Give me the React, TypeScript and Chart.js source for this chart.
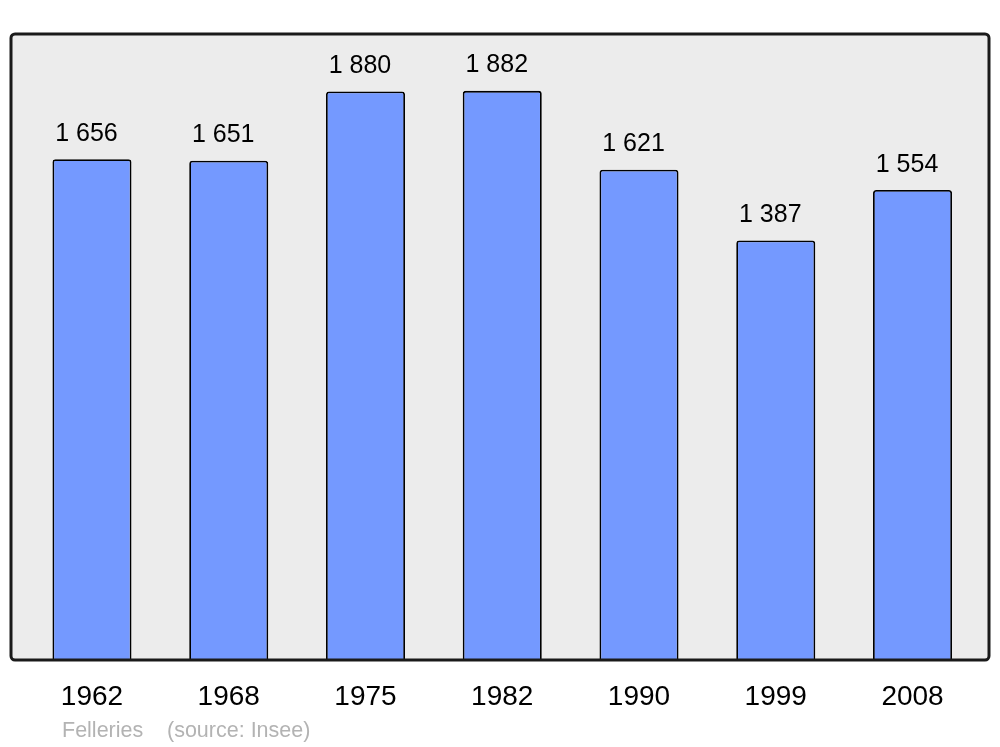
import React, { useEffect, useRef } from "react";
import { Chart, registerables } from "chart.js";

Chart.register(...registerables);

const years = ["1962", "1968", "1975", "1982", "1990", "1999", "2008"];
const population = [1656, 1651, 1880, 1882, 1621, 1387, 1554];
const townName = "Felleries";
const sourceText = "(source: Insee)";

const formatValue = (v: number) => String(v).replace(/\B(?=(\d{3})+(?!\d))/g, " ");

const FONT = "'Liberation Sans', Arial, sans-serif";

const framePlugin = {
  id: "frame",
  beforeDraw(chart: any) {
    const { ctx, chartArea } = chart;
    const l = chartArea.left - 12.6;
    const r = chartArea.right + 8.1;
    const t = chartArea.top;
    const b = chartArea.bottom;
    ctx.save();
    ctx.beginPath();
    ctx.roundRect(l, t, r - l, b - t, 4);
    ctx.fillStyle = "#ececec";
    ctx.fill();
    ctx.restore();
  },
  afterDatasetsDraw(chart: any) {
    const { ctx, chartArea } = chart;
    const l = chartArea.left - 12.6;
    const r = chartArea.right + 8.1;
    const t = chartArea.top;
    const b = chartArea.bottom;
    ctx.save();
    ctx.beginPath();
    ctx.roundRect(l, t, r - l, b - t, 4);
    ctx.lineWidth = 3;
    ctx.strokeStyle = "#1a1a1a";
    ctx.stroke();

    const meta = chart.getDatasetMeta(0);
    ctx.fillStyle = "#000000";
    ctx.font = `25px ${FONT}`;
    ctx.textAlign = "center";
    ctx.textBaseline = "alphabetic";
    meta.data.forEach((bar: any, i: number) => {
      ctx.fillText(formatValue(population[i]), bar.x - 5.5, bar.y - 18.5);
    });

    ctx.fillStyle = "#b3b3b3";
    ctx.font = `21.5px ${FONT}`;
    ctx.textAlign = "left";
    ctx.fillText(townName, 62, 737);
    ctx.fillText(sourceText, 167, 737);
    ctx.restore();
  },
};

export default function App() {
  const ref = useRef<HTMLCanvasElement | null>(null);
  useEffect(() => {
    if (!ref.current) return;
    const chart = new Chart(ref.current, {
      type: "bar",
      data: {
        labels: years,
        datasets: [
          {
            data: population,
            backgroundColor: "#7499ff",
            borderColor: "#000000",
            borderWidth: 1.8,
            borderSkipped: "bottom",
            borderRadius: { topLeft: 3, topRight: 3, bottomLeft: 0, bottomRight: 0 },
            categoryPercentage: 1,
            barPercentage: 0.578,
          },
        ],
      },
      options: {
        animation: false,
        responsive: false,
        maintainAspectRatio: false,
        layout: { padding: { left: 23.6, right: 19.1, top: 34, bottom: 0 } },
        plugins: {
          legend: { display: false },
          tooltip: { enabled: false },
        },
        scales: {
          x: {
            border: { display: false },
            grid: { display: false, drawTicks: false },
            ticks: {
              color: "#000000",
              font: { size: 28, family: FONT },
              padding: 20,
              maxRotation: 0,
            },
            afterFit: (s: any) => {
              s.height = 87;
            },
          },
          y: {
            display: false,
            min: 0,
            max: 2070,
          },
        },
      },
      plugins: [framePlugin],
    });
    return () => chart.destroy();
  }, []);
  return (
    <div style={{ position: "absolute", left: 0, top: 0, width: 1000, height: 747, background: "#ffffff" }}>
      <canvas ref={ref} width={1000} height={747} style={{ width: 1000, height: 747 }} />
    </div>
  );
}
